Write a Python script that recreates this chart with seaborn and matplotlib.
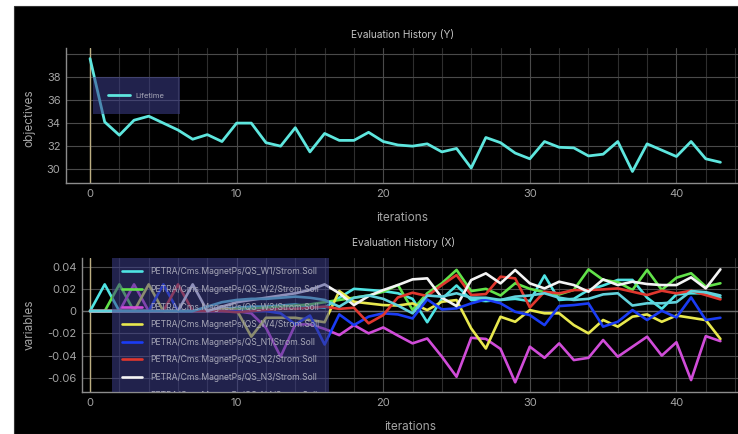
import matplotlib
matplotlib.use("Agg")
import numpy as np
import pandas as pd
import seaborn as sns
import matplotlib.pyplot as plt
from matplotlib.patches import Rectangle
from matplotlib.ticker import MultipleLocator, FixedLocator

# ---------------- data ----------------
iterations = list(range(44))

lifetime = [39.6, 34.1, 32.95, 34.25, 34.6, 34.0, 33.4, 32.6, 33.0, 32.4,
            34.0, 34.0, 32.3, 32.0, 33.6, 31.5, 33.1, 32.5, 32.5, 33.2,
            32.4, 32.1, 32.0, 32.2, 31.5, 31.8, 30.1, 32.75, 32.3, 31.4,
            30.9, 32.4, 31.9, 31.85, 31.15, 31.3, 32.4, 29.8, 32.2, 31.65,
            31.1, 32.4, 30.9, 30.6]

var_names = ["PETRA/Cms.MagnetPs/QS_W1/Strom.Soll",
             "PETRA/Cms.MagnetPs/QS_W2/Strom.Soll",
             "PETRA/Cms.MagnetPs/QS_W3/Strom.Soll",
             "PETRA/Cms.MagnetPs/QS_W4/Strom.Soll",
             "PETRA/Cms.MagnetPs/QS_N1/Strom.Soll",
             "PETRA/Cms.MagnetPs/QS_N2/Strom.Soll",
             "PETRA/Cms.MagnetPs/QS_N3/Strom.Soll",
             "PETRA/Cms.MagnetPs/QS_N4/Strom.Soll"]

w1 = [0, 0.024, 0, 0, 0, 0, 0, 0, 0,
      0.002, 0.003, 0.004, 0.004, 0.005, 0.006, 0.004, 0.003,
      0.012, 0.020, 0.019, 0.018, 0.016, 0.011, -0.010, 0.011, 0.023, 0.010,
      0.009, 0.010, 0.011, 0.009, 0.032, 0.010, 0.011, 0.019, 0.023, 0.028,
      0.028, 0.012, 0.002, 0.015, 0.016, 0.016, 0.012]
w2 = [0, 0, 0.024, 0, 0, 0, 0, 0, 0,
      0.001, 0.002, 0.002, 0.003, 0.004, 0.005, 0.006, 0.008,
      0.010, 0.012, 0.014, 0.0174, 0.0234, 0.001, 0.016, 0.025, 0.037, 0.018,
      0.020, 0.014, 0.025, 0.020, 0.017, 0.015, 0.019, 0.0375, 0.028, 0.026,
      0.019, 0.037, 0.019, 0.030, 0.034, 0.022, 0.025]
w3 = [0, 0, 0, 0.024, 0, 0, 0, 0, 0,
      0, 0, -0.002, -0.015, -0.041, -0.012, -0.012, -0.016,
      -0.0216, -0.0126, -0.020, -0.0147, -0.022, -0.029, -0.0246, -0.041, -0.059, -0.024,
      -0.025, -0.034, -0.064, -0.032, -0.042, -0.029, -0.044, -0.042, -0.026, -0.041,
      -0.032, -0.023, -0.040, -0.028, -0.062, -0.0225, -0.027]
w4 = [0, 0, 0, 0, 0.024, 0, 0, 0, 0,
      0.002, 0.001, -0.023, -0.006, -0.006, -0.006, -0.008, -0.010,
      0.018, 0.0084, 0.0069, 0.0054, 0.005, 0.0069, 0.0009, 0.0084, 0.0099, -0.0156,
      -0.0336, -0.0051, -0.0096, 0.0009, -0.002, -0.002, -0.0126, -0.020, -0.008, -0.014,
      -0.005, -0.003, -0.0096, -0.004, -0.006, -0.0081, -0.025]
n1 = [0, 0, 0, 0, 0, 0.024, 0, 0, 0,
      0, 0, 0, 0, -0.002, -0.012, -0.004, -0.030,
      -0.003, -0.0126, -0.005, -0.002, -0.003, -0.0066, 0.0105, 0.0015, 0.0024, 0.0069,
      0.0105, 0.007, -0.0006, -0.0036, -0.0126, 0.0045, 0.0054, 0.0069, -0.014, -0.0096,
      0.0009, -0.008, 0.0003, -0.0057, 0.0123, -0.008, -0.006]
n2 = [0, 0, 0, 0, 0, 0, 0.024, 0, 0,
      0, -0.001, 0, 0.001, 0.002, 0.002, 0.003, 0.004,
      0.002, 0.003, -0.011, -0.0036, 0.0123, 0.0165, 0.0135, 0.0234, 0.0324, 0.0144,
      0.0153, 0.0309, 0.0294, 0.0033, 0.0174, 0.0159, 0.0189, 0.0189, 0.0195, 0.0204,
      0.0174, 0.0144, 0.0183, 0.0159, 0.0183, 0.0144, 0.0105]
n3 = [0, 0, 0, 0, 0, 0, 0, 0.024, 0,
      0.004, 0.008, 0.010, 0.012, 0.014, 0.016, 0.019, 0.024,
      0.016, 0.0054, 0.0135, 0.0189, 0.0234, 0.0285, 0.0294, 0.012, 0.0045, 0.0279,
      0.0339, 0.0249, 0.0369, 0.0249, 0.0204, 0.0264, 0.0234, 0.0174, 0.0285, 0.0234,
      0.0264, 0.0243, 0.0234, 0.0234, 0.0303, 0.0204, 0.0375]
n4 = [0, 0, 0, 0, 0, 0, 0, 0, 0.004,
      0.008, 0.010, 0.011, 0.011, 0.012, 0.013, 0.012, 0.010,
      0.004, 0.012, 0.014, 0.011, 0.005, -0.002, 0.014, 0.013, 0.016, 0.012,
      0.012, 0.010, 0.013, 0.014, 0.016, 0.012, 0.010, 0.011, 0.015, 0.016,
      0.005, 0.007, 0.007, 0.008, 0.018, 0.017, 0.014]
var_series = [w1, w2, w3, w4, n1, n2, n3, n4]

obj_ticks = [30, 32, 34, 36, 38, 40]
obj_ticklabels = ["30", "32", "34", "36", "38", ""]
var_ticks = [-0.06, -0.04, -0.02, 0, 0.02, 0.04]
var_ticklabels = ["-0.06", "-0.04", "-0.02", "0", "0.02", "0.04"]
x_ticks = [0, 10, 20, 30, 40]

var_colors = ["#4fe3e3", "#62e24a", "#d04cd8", "#e8e84e",
              "#1a3cf5", "#e0372e", "#f4f4f4", "#62d2dc"]

# ---------------- theme ----------------
sns.set_theme(style="dark")
plt.rcParams["font.family"] = ["Inter", "DejaVu Sans"]

W, H = 738, 434
fig = plt.figure(figsize=(W / 100, H / 100), dpi=100)
fig.patch.set_facecolor("white")
fig.add_artist(Rectangle((14 / W, 0), 1, 1 - 6 / H, transform=fig.transFigure,
                         facecolor="black", edgecolor="#333333", lw=0.8, zorder=-100))


def axes_px(l, t, r, b):
    return fig.add_axes([l / W, 1 - b / H, (r - l) / W, (b - t) / H])


ax1 = axes_px(66, 48, 738, 183)
ax2 = axes_px(82, 258, 738, 392)

TXT = "#a4a4a4"


def style(ax, xleft):
    ax.set_facecolor("black")
    ax.set_xlim(xleft, 44.2)
    for s in ["top", "right"]:
        ax.spines[s].set_visible(False)
    for s in ["left", "bottom"]:
        ax.spines[s].set_visible(True)
        ax.spines[s].set_color("#8c8c8c")
        ax.spines[s].set_linewidth(1.0)
    ax.xaxis.set_major_locator(FixedLocator(x_ticks))
    ax.xaxis.set_minor_locator(MultipleLocator(2))
    ax.grid(True, which="major", color="#4a4a4a", lw=0.8)
    ax.grid(True, which="minor", axis="x", color="#2e2e2e", lw=0.8)
    ax.tick_params(which="both", length=0, colors=TXT, labelsize=8, pad=4)
    ax.axvline(0, color="#bcae82", lw=1.0, zorder=1.5)


style(ax1, -1.64)
style(ax2, -0.55)

# ---------------- top plot ----------------
df_y = pd.DataFrame({"iterations": iterations, "objectives": lifetime})
sns.lineplot(data=df_y, x="iterations", y="objectives", ax=ax1,
             color="#5ee6de", lw=2.0, label="Lifetime", zorder=3)
ax1.set_ylim(28.8, 40.52)
ax1.set_yticks(obj_ticks, obj_ticklabels)
ax1.set_xlabel("iterations", color=TXT, fontsize=8.5)
ax1.set_ylabel("objectives", color=TXT, fontsize=8.5)
ax1.xaxis.set_label_coords(0.5, -0.215)
ax1.yaxis.set_label_coords(-0.045, 0.48)
fig.text(403 / W, 1 - 35 / H, "Evaluation History (Y)", color="#c4c4c4",
         fontsize=7.3, ha="center", va="center")

leg1 = ax1.legend(loc="upper left", bbox_to_anchor=(93 / W, 1 - 77 / H),
                  bbox_transform=fig.transFigure, borderaxespad=0,
                  fontsize=5.5, frameon=True, fancybox=False,
                  facecolor="#3d3f8c", framealpha=0.55, edgecolor="none",
                  labelcolor="#a8a8b8", handlelength=2.8, handletextpad=0.8,
                  borderpad=2.0)

# ---------------- bottom plot ----------------
df_x = pd.DataFrame({"iterations": iterations * len(var_names),
                     "variables": np.concatenate(var_series),
                     "name": np.repeat(var_names, len(iterations))})
ax2.axhline(0, color="#6a6a6a", lw=1.0, zorder=1.4)
sns.lineplot(data=df_x, x="iterations", y="variables", hue="name",
             palette=dict(zip(var_names, var_colors)), ax=ax2, lw=1.9,
             zorder=3, estimator=None, sort=False)
ax2.set_ylim(-0.0727, 0.0477)
ax2.set_yticks(var_ticks, var_ticklabels)
ax2.set_xlabel("iterations", color=TXT, fontsize=8.5)
ax2.set_ylabel("variables", color=TXT, fontsize=8.5)
ax2.xaxis.set_label_coords(0.5, -0.216)
ax2.yaxis.set_label_coords(-0.070, 0.5)
fig.text(404 / W, 1 - 243 / H, "Evaluation History (X)", color="#c4c4c4",
         fontsize=7.3, ha="center", va="center")

handles, labels = ax2.get_legend_handles_labels()
leg2 = ax2.legend(handles, labels, loc="upper left",
                  bbox_to_anchor=(112 / W, 1 - 257 / H),
                  bbox_transform=fig.transFigure, borderaxespad=0,
                  fontsize=6.2, frameon=True, fancybox=False,
                  facecolor="#3d3f8c", framealpha=0.55, edgecolor="none",
                  labelcolor="#a8a8b8", handlelength=2.3, handletextpad=0.9,
                  borderpad=1.2, labelspacing=1.0)
for a in leg2.findobj():
    a.set_clip_on(True)
    a.set_clip_box(ax2.bbox)

fig.savefig("out.png", dpi=100, facecolor=fig.get_facecolor())
